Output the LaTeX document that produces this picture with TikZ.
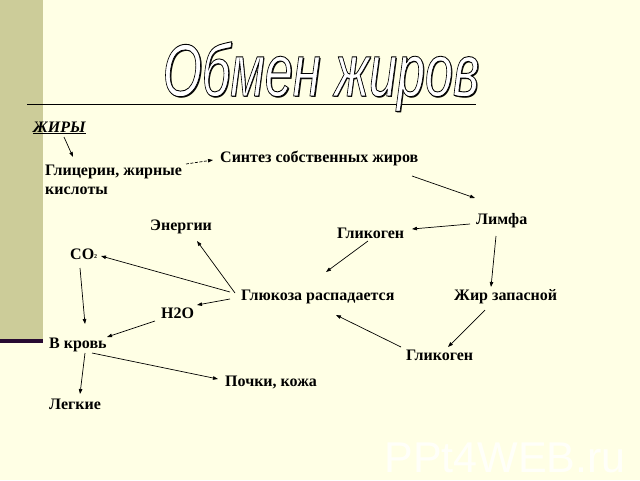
\documentclass[tikz,border=0pt]{standalone}
\usepackage{fontspec}
\setmainfont{Liberation Serif}
\newfontfamily\titlefont{Liberation Sans}
\usetikzlibrary{arrows.meta,calc}
\definecolor{bgcream}{RGB}{255,255,229}
\definecolor{barkhaki}{RGB}{204,204,153}
\definecolor{bardark}{RGB}{40,10,50}
\tikzset{
  lbl/.style={anchor=west,inner sep=0pt,font=\fontsize{16}{19}\selectfont\bfseries},
  arr/.style={line width=0.7pt,-{Triangle[length=5pt,width=3.5pt]}},
}
\newcommand{\ttltext}{\scalebox{0.68}[1]{\titlefont\itshape\fontsize{74}{80}\selectfont Обмен жиров}}
\newcommand{\outlinedtitle}{\special{pdf:literal direct 2 Tr 0.9 w 0 0 0 RG 1 1 1 rg}\ttltext\special{pdf:literal direct 0 Tr}}
\begin{document}
\begin{tikzpicture}[x=1pt,y=-1pt]
\useasboundingbox (0,0) rectangle (640,480);
\fill[bgcream] (0,0) rectangle (640,480);
\fill[barkhaki] (0,0) rectangle (43,339);
\fill[bardark] (0,339) rectangle (43,343);
% watermark
\node[text=white,text opacity=0.8,inner sep=0pt,anchor=base] (wm) at (505,472) {\titlefont\fontsize{43}{46}\selectfont PPt4WEB.ru};
% title rule
\draw[line width=0.8pt] (27,104.5) -- (476,104.5);
% title: shadow then outlined white text
\node[anchor=base,inner sep=0pt,text=black] (ttlshadow) at (322.6,97.6) {\ttltext};
\node[anchor=base,inner sep=0pt] (title) at (321,96) {\outlinedtitle};
% labels
\node[lbl,font=\fontsize{16}{19}\selectfont\bfseries\itshape] (zhiry) at (33,128) {\underline{ЖИРЫ}};
\node[lbl,align=left] (glic) at (45,180) {Глицерин, жирные\\кислоты};
\node[lbl] (sint) at (220,158) {Синтез собственных жиров};
\node[lbl] (limfa) at (476,221) {Лимфа};
\node[lbl] (glik1) at (337,233) {Гликоген};
\node[lbl] (energ) at (150,227) {Энергии};
\node[lbl] (co2) at (70,254) {CO\raisebox{1pt}{\fontsize{6}{6}\selectfont 2}};
\node[lbl] (gluk) at (241,297) {Глюкоза распадается};
\node[lbl] (zhir) at (454,297) {Жир запасной};
\node[lbl] (h2o) at (161,313) {H2O};
\node[lbl] (krov) at (49,345) {В кровь};
\node[lbl] (glik2) at (406,355) {Гликоген};
\node[lbl] (pochki) at (225,382) {Почки, кожа};
\node[lbl] (legk) at (49,404) {Легкие};
% connectors
\draw[arr] ($(zhiry.west)+(31,9)$) -- ($(glic.west)+(28,-23)$);
\draw[arr,dash pattern=on 3pt off 1.5pt] ($(glic.west)+(141,-16)$) -- ($(sint.west)+(-7,2)$);
\draw[arr] ($(sint.west)+(192,18)$) -- ($(limfa.west)+(-1,-23)$);
\draw[arr] ($(limfa.west)+(-6,3)$) -- ($(glik1.west)+(75,-4)$);
\draw[arr] ($(glik1.west)+(31,8)$) -- ($(gluk.west)+(85,-25)$);
\draw[arr] ($(limfa.west)+(20,15)$) -- ($(zhir.west)+(37,-10)$);
\draw[arr] ($(zhir.west)+(31,13)$) -- ($(glik2.west)+(42,-8)$);
\draw[arr] ($(glik2.west)+(-5,-8)$) -- ($(gluk.west)+(95,18)$);
\draw[arr] ($(gluk.west)+(-6,-4)$) -- ($(energ.west)+(47,14)$);
\draw[arr] ($(gluk.west)+(-11,-5)$) -- ($(co2.west)+(31,2)$);
\draw[arr] ($(gluk.west)+(-11,2)$) -- ($(h2o.west)+(36,-8)$);
\draw[arr] ($(co2.west)+(10,14)$) -- ($(krov.west)+(36,-21)$);
\draw[arr] ($(h2o.west)+(-6,8)$) -- ($(krov.west)+(58,-8)$);
\draw[arr] ($(krov.west)+(36,8)$) -- ($(legk.west)+(31,-10)$);
\draw[arr] ($(krov.west)+(43,8)$) -- ($(pochki.west)+(-7,-3)$);
\end{tikzpicture}
\end{document}
